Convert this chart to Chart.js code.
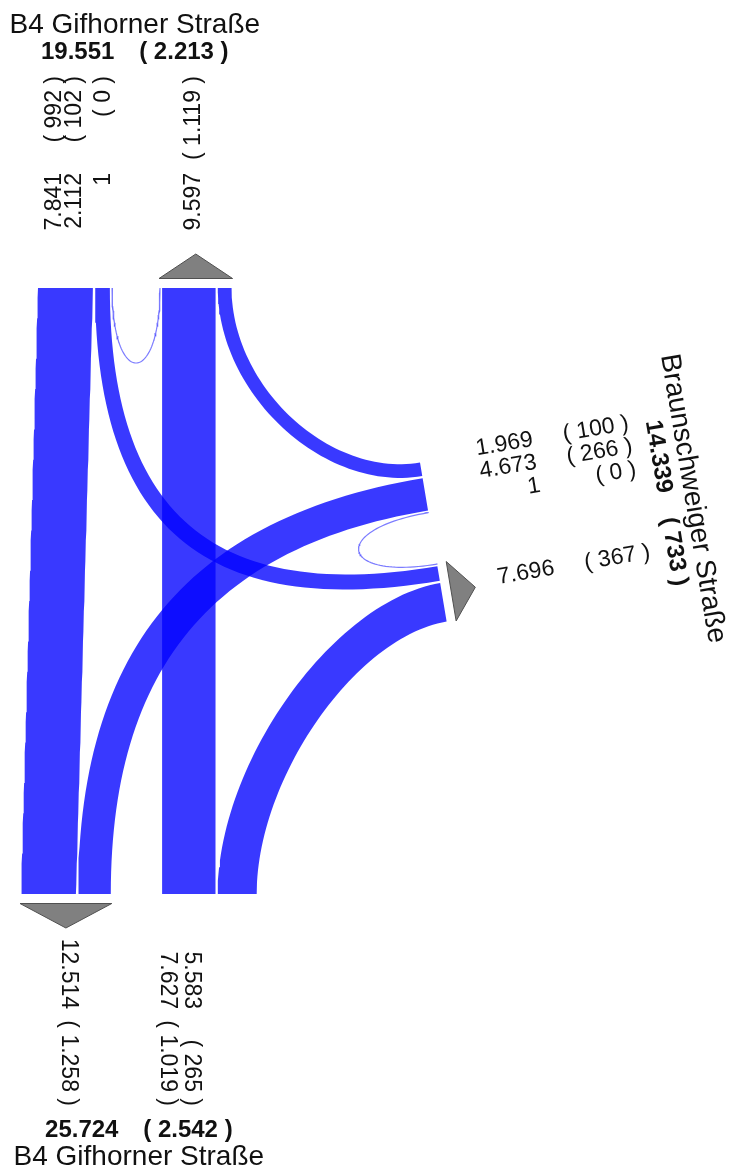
<!DOCTYPE html>
<html>
<head>
<meta charset="utf-8">
<title>Knotenstromdiagramm</title>
<script src="https://cdn.jsdelivr.net/npm/chart.js@4.4.1/dist/chart.umd.min.js"></script>
<style>
  html, body { margin: 0; padding: 0; background: #fff; }
  #wrap { width: 733px; height: 1174px; position: relative; }
</style>
</head>
<body>
<div id="wrap"><canvas id="flowChart"></canvas></div>
<script>
// Knotenstromdiagramm: Kfz / 24h, in Klammern der Schwerverkehr
const arms = ['Nord', 'Ost', 'Süd'];
const armTitles = ['B4 Gifhorner Straße', 'Braunschweiger Straße', 'B4 Gifhorner Straße'];

// one entry per turning movement
const flowFrom = ['Nord', 'Nord', 'Nord', 'Ost', 'Ost', 'Ost', 'Süd', 'Süd'];
const flowTo = ['Süd', 'Ost', 'Nord', 'Nord', 'Süd', 'Ost', 'Nord', 'Ost'];
const flowCars = [7841, 2112, 1, 1969, 4673, 1, 7627, 5583];
const flowHeavy = [992, 102, 0, 100, 266, 0, 1019, 265];

// drawing settings
const PX_PER_VEH = 0.007;
const BAND_GAP = 2.2;
const K_LEFT = 0.68;   // left turns hug the corner more
const K_RIGHT = 0.48;
const UTURN_LEN = 100;
const SAMPLES = 60;
const BAND_COLOR = 'rgba(0, 0, 255, 0.775)';
const TRI_OFFSET = 9.5;
const TRI_TIP = 34;
const NUM_OUT = 115;
const PAREN_OUT = 212;
const TOTAL_OUT = 236;
const TITLE_OUT = 263;
const FONT = "'Liberation Sans', Arial, sans-serif";

const EAST_TILT = 9.5 * Math.PI / 180;
// arm edge: origin, u = direction along the edge, n = pointing into the junction
const armGeometry = {
  'Nord': { origin: [38, 288], u: [1, 0], n: [0, 1], inStart: 0, outStart: 122,
    outOrder: ['Nord', 'Süd', 'Ost'], inLabelAlong: [17, 36.5, 65.5], outLabelAlong: 155.5 },
  'Ost': { origin: [420, 462.5], u: [Math.sin(EAST_TILT), Math.cos(EAST_TILT)],
    n: [-Math.cos(EAST_TILT), Math.sin(EAST_TILT)], inStart: 0, outStart: 103,
    outOrder: ['Ost', 'Nord', 'Süd'], inLabelAlong: [-4, 19, 42.5], outLabelAlong: 126.4 },
  'Süd': { origin: [21, 894], u: [1, 0], n: [0, -1], inStart: 141, outStart: 0,
    outOrder: ['Nord', 'Ost'], inLabelAlong: [146, 170], outLabelAlong: 47 }
};

const fmt = v => String(v).replace(/\B(?=(\d{3})+(?!\d))/g, '.');
const dot = (a, b) => a[0] * b[0] + a[1] * b[1];

function pointOn(g, s, out) {
  return [g.origin[0] + s * g.u[0] - out * g.n[0], g.origin[1] + s * g.u[1] - out * g.n[1]];
}

// lay the bands side by side on every arm
const slots = flowCars.map(() => ({}));
arms.forEach(a => {
  const g = armGeometry[a];
  let s = g.inStart;
  flowFrom.forEach((f, i) => {
    if (f !== a) return;
    const w = flowCars[i] * PX_PER_VEH;
    slots[i].in = [s, s + w];
    s += w + BAND_GAP;
  });
  g.inEnd = s - BAND_GAP;
  s = g.outStart;
  g.outOrder.forEach(src => {
    flowTo.forEach((t, i) => {
      if (t !== a || flowFrom[i] !== src) return;
      const w = flowCars[i] * PX_PER_VEH;
      slots[i].out = [s, s + w];
      s += w + BAND_GAP;
    });
  });
  g.outEnd = s - BAND_GAP;
});

function edgeCurve(p0, d0, p3, d3) {
  const dx = p3[0] - p0[0], dy = p3[1] - p0[1];
  const cr = d0[0] * d3[1] - d0[1] * d3[0];
  let p1, p2;
  if (Math.abs(cr) < 1e-6 && dot(d0, d3) > 0) {
    // straight through
    p1 = [p0[0] + dx / 3, p0[1] + dy / 3];
    p2 = [p0[0] + 2 * dx / 3, p0[1] + 2 * dy / 3];
  } else {
    let l0 = UTURN_LEN, l3 = UTURN_LEN;
    if (Math.abs(cr) >= 1e-6) {
      const k = cr < 0 ? K_LEFT : K_RIGHT;
      l0 = k * (dx * d3[1] - dy * d3[0]) / cr;
      l3 = k * (d0[0] * dy - d0[1] * dx) / cr;
    }
    p1 = [p0[0] + d0[0] * l0, p0[1] + d0[1] * l0];
    p2 = [p3[0] - d3[0] * l3, p3[1] - d3[1] * l3];
  }
  const pts = [];
  for (let k = 0; k <= SAMPLES; k++) {
    const t = k / SAMPLES, mt = 1 - t;
    const a = mt * mt * mt, b = 3 * mt * mt * t, c = 3 * mt * t * t, d = t * t * t;
    pts.push({
      x: a * p0[0] + b * p1[0] + c * p2[0] + d * p3[0],
      y: a * p0[1] + b * p1[1] + c * p2[1] + d * p3[1]
    });
  }
  return pts;
}

const datasets = [];

flowCars.forEach((v, i) => {
  const A = armGeometry[flowFrom[i]];
  const B = armGeometry[flowTo[i]];
  const d0 = A.n;
  const d3 = [-B.n[0], -B.n[1]];
  const li = dot(A.u, [d0[1], -d0[0]]) > 0 ? 1 : 0;
  const lo = dot(B.u, [d3[1], -d3[0]]) > 0 ? 1 : 0;
  const sIn = slots[i].in, sOut = slots[i].out;
  const leftEdge = edgeCurve(pointOn(A, sIn[li], 0), d0, pointOn(B, sOut[lo], 0), d3);
  const rightEdge = edgeCurve(pointOn(A, sIn[1 - li], 0), d0, pointOn(B, sOut[1 - lo], 0), d3);
  const thin = v * PX_PER_VEH < 1;
  datasets.push({
    label: flowFrom[i] + ' → ' + flowTo[i],
    data: leftEdge.concat(rightEdge.reverse()),
    fill: 'shape',
    backgroundColor: BAND_COLOR,
    borderColor: thin ? 'rgba(70, 70, 255, 0.7)' : 'rgba(0, 0, 0, 0)',
    borderWidth: thin ? 1.2 : 0,
    pointRadius: 0,
    pointHitRadius: 0,
    tension: 0
  });
});

// arrow heads for the outgoing side of every arm
arms.forEach(a => {
  const g = armGeometry[a];
  const p1 = pointOn(g, g.outStart - 1, TRI_OFFSET);
  const p2 = pointOn(g, g.outEnd + 1, TRI_OFFSET);
  const tip = pointOn(g, (g.outStart + g.outEnd) / 2, TRI_TIP);
  datasets.push({
    label: 'Pfeil ' + a,
    data: [p1, tip, p2, p1].map(p => ({ x: p[0], y: p[1] })),
    fill: 'shape',
    backgroundColor: '#808080',
    borderColor: '#505050',
    borderWidth: 1,
    pointRadius: 0,
    pointHitRadius: 0,
    tension: 0
  });
});

// text labels
const labels = [];
arms.forEach((a, ai) => {
  const g = armGeometry[a];
  const m = [-g.n[0], -g.n[1]];
  const outAngle = Math.atan2(m[1], m[0]);
  const edgeAngle = Math.atan2(g.u[1], g.u[0]);
  const numFont = '23px ' + FONT;

  let inSum = 0, inHeavy = 0, outSum = 0, outHeavy = 0;
  let k = 0;
  flowFrom.forEach((f, i) => {
    if (f !== a) return;
    inSum += flowCars[i];
    inHeavy += flowHeavy[i];
    const along = g.inLabelAlong[k++];
    const pn = pointOn(g, along, NUM_OUT);
    const pp = pointOn(g, along, PAREN_OUT);
    labels.push({ text: fmt(flowCars[i]), x: pn[0], y: pn[1], angle: outAngle, align: 'right', font: numFont });
    labels.push({ text: '( ' + fmt(flowHeavy[i]) + ' )', x: pp[0], y: pp[1], angle: outAngle, align: 'right', font: numFont });
  });
  flowTo.forEach((t, i) => {
    if (t !== a) return;
    outSum += flowCars[i];
    outHeavy += flowHeavy[i];
  });
  const pn = pointOn(g, g.outLabelAlong, NUM_OUT);
  const pp = pointOn(g, g.outLabelAlong, PAREN_OUT);
  labels.push({ text: fmt(outSum), x: pn[0], y: pn[1], angle: outAngle, align: 'right', font: numFont });
  labels.push({ text: '( ' + fmt(outHeavy) + ' )', x: pp[0], y: pp[1], angle: outAngle, align: 'right', font: numFont });

  const lo = Math.min(g.inStart, g.outStart);
  const hi = Math.max(g.outEnd, g.inEnd);
  const mid = (lo + hi) / 2;
  const pt = pointOn(g, mid, TOTAL_OUT);
  labels.push({ text: fmt(inSum + outSum) + '   \u2009( ' + fmt(inHeavy + outHeavy) + ' )', x: pt[0], y: pt[1],
    angle: edgeAngle, align: 'center', font: 'bold 24px ' + FONT });
  const ph = pointOn(g, mid, TITLE_OUT);
  labels.push({ text: armTitles[ai], x: ph[0], y: ph[1], angle: edgeAngle, align: 'center', font: '28px ' + FONT });
});

const labelPlugin = {
  id: 'flowLabels',
  afterDatasetsDraw(chart) {
    const { ctx, scales: { x, y } } = chart;
    labels.forEach(l => {
      ctx.save();
      ctx.translate(x.getPixelForValue(l.x), y.getPixelForValue(l.y));
      ctx.rotate(l.angle);
      ctx.font = l.font;
      ctx.fillStyle = '#111';
      ctx.textAlign = l.align;
      ctx.textBaseline = 'middle';
      ctx.fillText(l.text, 0, 0);
      ctx.restore();
    });
  }
};

new Chart(document.getElementById('flowChart'), {
  type: 'line',
  data: { datasets: datasets },
  options: {
    responsive: true,
    maintainAspectRatio: false,
    animation: false,
    layout: { padding: 0 },
    plugins: {
      legend: { display: false },
      tooltip: { enabled: false }
    },
    scales: {
      x: { type: 'linear', min: 0, max: 733, display: false },
      y: { type: 'linear', min: 0, max: 1174, reverse: true, display: false }
    }
  },
  plugins: [labelPlugin]
});
</script>
</body>
</html>
